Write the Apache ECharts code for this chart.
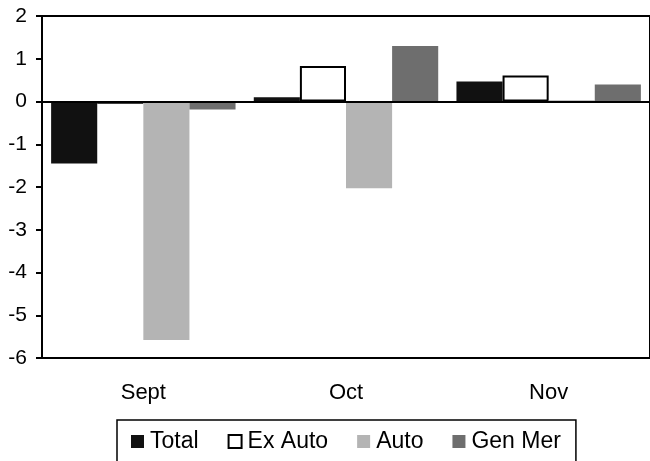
<!DOCTYPE html>
<html>
<head>
<meta charset="utf-8">
<script src="https://cdn.jsdelivr.net/npm/echarts@6/dist/echarts.min.js"></script>
<style>
  html, body { margin: 0; padding: 0; background: #fff; }
  #main { width: 650px; height: 461px; }
</style>
</head>
<body>
<div id="main"></div>
<script>
// categories and values
var months = ['Sept', 'Oct', 'Nov'];
var total = [-1.45, 0.1, 0.47];
var exAuto = [-0.05, 0.83, 0.61];
var auto = [-5.58, -2.03, 0.03];
var genMer = [-0.19, 1.3, 0.4];
var yTicks = [-6, -5, -4, -3, -2, -1, 0, 1, 2];

var myChart = echarts.init(document.getElementById('main'));

var font = 'Liberation Sans, Arial, sans-serif';

var option = {
    animation: false,
    grid: {
        left: 42, right: -4, top: 16, bottom: 103,
        show: true, borderColor: '#000', borderWidth: 2, backgroundColor: 'transparent'
    },
    legend: {
        bottom: -8,
        left: 117,
        itemGap: 29,
        itemWidth: 13,
        itemHeight: 13,
        icon: 'rect',
        padding: [10, 15, 16, 14],
        borderColor: '#000',
        borderWidth: 1.5,
        textStyle: { fontFamily: font, fontSize: 23, color: '#000', padding: [0, 0, 0, 1] },
        data: ['Total', 'Ex Auto', 'Auto', 'Gen Mer']
    },
    xAxis: {
        type: 'category',
        data: months,
        axisLine: { onZero: false, lineStyle: { color: '#000', width: 2 } },
        axisTick: { show: false },
        axisLabel: { fontFamily: font, fontSize: 22, color: '#000', margin: 24 }
    },
    yAxis: {
        type: 'value',
        min: yTicks[0],
        max: yTicks[yTicks.length - 1],
        interval: 1,
        axisLine: { show: true, lineStyle: { color: '#000', width: 2 } },
        axisTick: { show: true, inside: false, length: 6, lineStyle: { color: '#000', width: 2 } },
        splitLine: { show: false },
        axisLabel: { fontFamily: font, fontSize: 21, color: '#000', margin: 15 }
    },
    series: [
        {
            name: 'Total', type: 'bar', data: total,
            barCategoryGap: '9%', barGap: '0%',
            itemStyle: { color: '#111' },
            markLine: {
                silent: true, symbol: 'none', label: { show: false },
                lineStyle: { color: '#000', width: 2, type: 'solid' },
                data: [{ yAxis: 0 }]
            }
        },
        {
            name: 'Ex Auto', type: 'bar', data: exAuto,
            itemStyle: { color: '#fff', borderColor: '#000', borderWidth: 2 }
        },
        {
            name: 'Auto', type: 'bar', data: auto,
            itemStyle: { color: '#b4b4b4' }
        },
        {
            name: 'Gen Mer', type: 'bar', data: genMer,
            itemStyle: { color: '#6e6e6e' }
        }
    ]
};

myChart.setOption(option, true);
</script>
</body>
</html>
